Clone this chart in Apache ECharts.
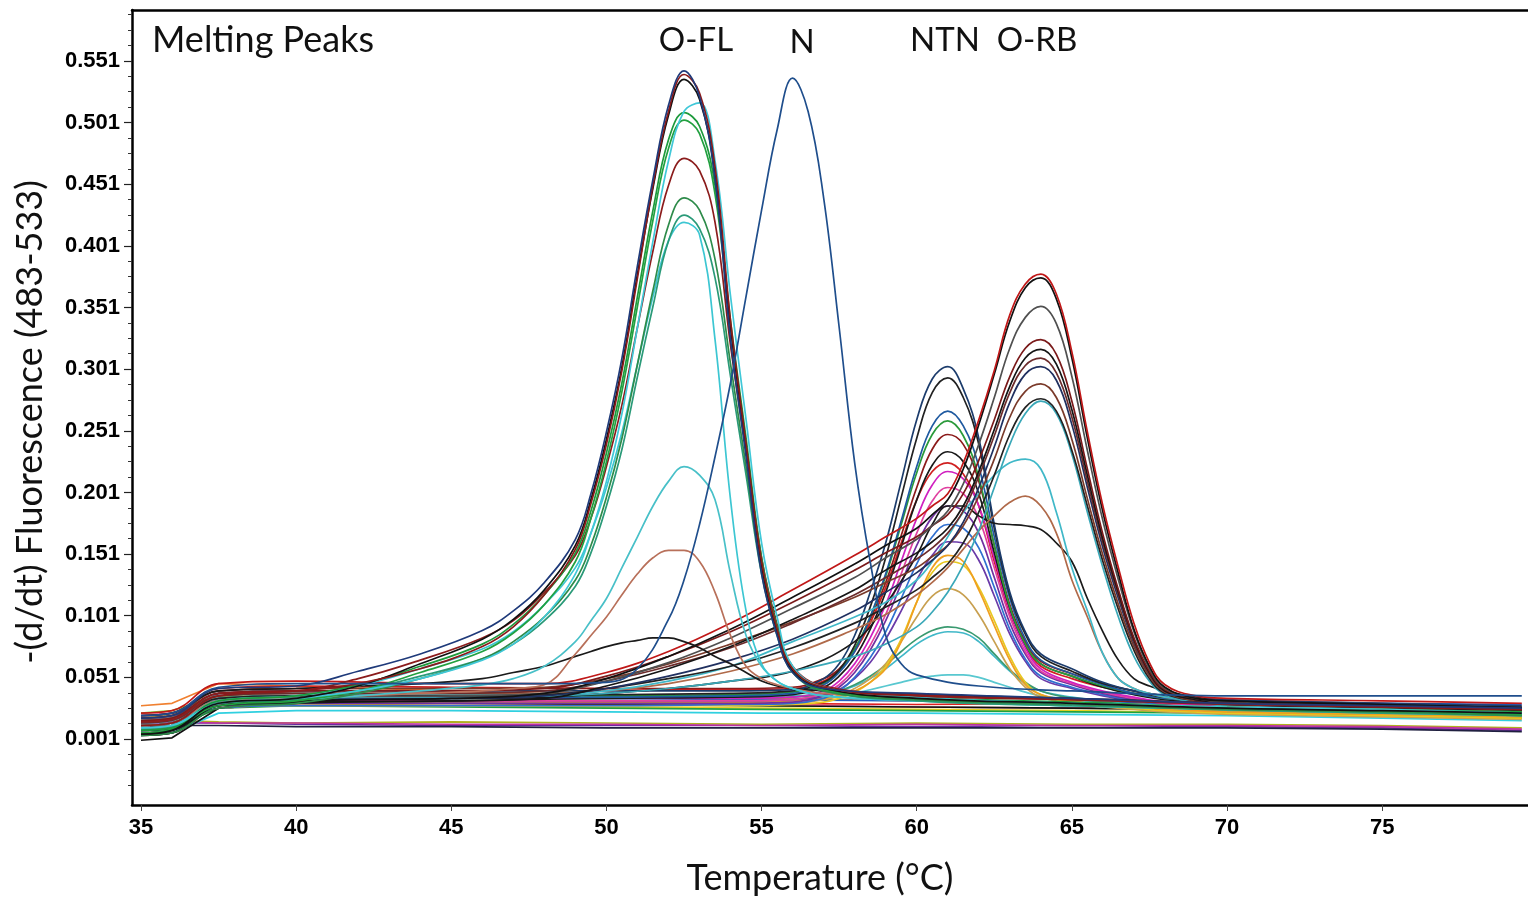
<!DOCTYPE html>
<html>
<head>
<meta charset="utf-8">
<script src="https://cdn.jsdelivr.net/npm/echarts@6.0.0/dist/echarts.min.js"></script>
<style>
  html, body { margin: 0; padding: 0; background: #fff; }
  #container { width: 1528px; height: 899px; }
</style>
</head>
<body>
<div id="container"></div>
<script>
// temperature grids (°C) for each group of curves
const tempOFL = [35, 36, 37.5, 40, 42, 44, 46, 47, 48, 49, 49.5, 50, 50.5, 51, 51.5, 52, 52.5, 53, 53.5, 54, 54.5, 55, 55.5, 56, 57, 60, 65, 70, 75, 79.5];
const tempN = [35, 36, 37.5, 40, 45, 48, 50, 51, 52, 52.5, 53, 53.5, 54, 54.5, 55, 55.5, 56, 56.5, 57, 57.5, 58, 58.5, 59, 59.5, 60, 62, 65, 70, 75, 79.5];
const tempNTN = [35, 36, 37.5, 40, 45, 50, 54, 56, 57, 57.5, 58, 58.5, 59, 59.5, 60, 60.5, 61, 61.5, 62, 62.5, 63, 63.5, 64, 65, 66, 67, 68, 70, 75, 79.5];
const tempORB = [35, 36, 37.5, 40, 45, 48, 50, 52, 54, 56, 58, 59, 60, 60.5, 61, 61.5, 62, 62.5, 63, 63.5, 64, 64.5, 65, 65.5, 66, 66.5, 67, 67.5, 68, 69, 70, 75, 79.5];
const tempBase = [35, 36, 37.5, 40, 45, 50, 55, 60, 65, 70, 75, 79.5];

// tick labels
const xTicks = [35, 40, 45, 50, 55, 60, 65, 70, 75];
const yTicks = [0.001, 0.051, 0.101, 0.151, 0.201, 0.251, 0.301, 0.351, 0.401, 0.451, 0.501, 0.551];
const peakNames = ['O-FL', 'N', 'NTN', 'O-RB'];

// O-FL peaks, -(d/dt) values on tempOFL
const ofl1 = [0.018, 0.02, 0.042, 0.044, 0.056, 0.07, 0.089, 0.105, 0.128, 0.163, 0.2, 0.25, 0.31, 0.385, 0.455, 0.515, 0.543, 0.522, 0.455, 0.325, 0.23, 0.135, 0.085, 0.055, 0.042, 0.038, 0.034, 0.03, 0.028, 0.026];
const ofl2 = [0.012, 0.014, 0.036, 0.04, 0.046, 0.058, 0.076, 0.092, 0.118, 0.155, 0.192, 0.24, 0.3, 0.375, 0.45, 0.51, 0.54, 0.525, 0.465, 0.34, 0.24, 0.145, 0.09, 0.058, 0.043, 0.036, 0.033, 0.03, 0.027, 0.025];
const ofl3 = [0.005, 0.008, 0.03, 0.034, 0.044, 0.062, 0.082, 0.098, 0.122, 0.158, 0.195, 0.244, 0.303, 0.378, 0.448, 0.507, 0.536, 0.52, 0.458, 0.335, 0.238, 0.142, 0.088, 0.056, 0.042, 0.034, 0.03, 0.026, 0.024, 0.022];
const ofl4 = [0.01, 0.012, 0.03, 0.034, 0.04, 0.05, 0.065, 0.078, 0.1, 0.135, 0.168, 0.21, 0.265, 0.335, 0.405, 0.47, 0.51, 0.517, 0.47, 0.36, 0.26, 0.16, 0.1, 0.06, 0.043, 0.035, 0.03, 0.027, 0.025, 0.022];
const ofl5 = [0.008, 0.01, 0.032, 0.036, 0.045, 0.06, 0.078, 0.094, 0.118, 0.152, 0.186, 0.233, 0.29, 0.36, 0.43, 0.487, 0.509, 0.498, 0.45, 0.34, 0.245, 0.148, 0.092, 0.058, 0.042, 0.035, 0.031, 0.027, 0.025, 0.023];
const ofl6 = [0.006, 0.009, 0.028, 0.032, 0.04, 0.055, 0.072, 0.087, 0.11, 0.145, 0.18, 0.226, 0.283, 0.352, 0.422, 0.48, 0.503, 0.492, 0.443, 0.335, 0.24, 0.145, 0.09, 0.057, 0.041, 0.034, 0.03, 0.026, 0.024, 0.021];
const ofl7 = [0.015, 0.017, 0.038, 0.04, 0.05, 0.065, 0.083, 0.097, 0.12, 0.15, 0.18, 0.222, 0.272, 0.335, 0.397, 0.45, 0.472, 0.462, 0.42, 0.32, 0.235, 0.148, 0.094, 0.06, 0.044, 0.037, 0.033, 0.029, 0.027, 0.025];
const ofl8 = [0.004, 0.006, 0.026, 0.03, 0.038, 0.05, 0.066, 0.08, 0.1, 0.13, 0.158, 0.197, 0.245, 0.305, 0.365, 0.418, 0.44, 0.43, 0.39, 0.305, 0.222, 0.138, 0.088, 0.056, 0.04, 0.033, 0.029, 0.025, 0.023, 0.02];
const ofl9 = [0.009, 0.011, 0.03, 0.033, 0.04, 0.052, 0.066, 0.078, 0.097, 0.125, 0.152, 0.19, 0.236, 0.295, 0.352, 0.405, 0.426, 0.415, 0.375, 0.295, 0.215, 0.135, 0.085, 0.055, 0.04, 0.032, 0.028, 0.025, 0.022, 0.02];
const ofl10 = [0.01, 0.012, 0.032, 0.036, 0.044, 0.058, 0.074, 0.088, 0.11, 0.14, 0.168, 0.205, 0.25, 0.305, 0.36, 0.405, 0.42, 0.41, 0.325, 0.195, 0.105, 0.062, 0.048, 0.042, 0.036, 0.032, 0.028, 0.025, 0.022, 0.02];
const ofl11 = [0.01, 0.012, 0.03, 0.033, 0.036, 0.04, 0.045, 0.05, 0.06, 0.08, 0.097, 0.115, 0.14, 0.165, 0.19, 0.21, 0.222, 0.215, 0.195, 0.135, 0.085, 0.06, 0.048, 0.042, 0.036, 0.032, 0.028, 0.025, 0.023, 0.021];
const ofl12 = [0.012, 0.014, 0.032, 0.034, 0.036, 0.038, 0.04, 0.042, 0.045, 0.07, 0.085, 0.1, 0.118, 0.135, 0.148, 0.154, 0.154, 0.145, 0.12, 0.085, 0.06, 0.05, 0.045, 0.042, 0.038, 0.034, 0.03, 0.027, 0.025, 0.023];
const ofl13 = [0.02, 0.022, 0.04, 0.042, 0.044, 0.046, 0.05, 0.055, 0.06, 0.068, 0.072, 0.076, 0.079, 0.081, 0.083, 0.083, 0.08, 0.075, 0.068, 0.062, 0.055, 0.048, 0.044, 0.042, 0.04, 0.037, 0.034, 0.03, 0.028, 0.026];

// N peak on tempN
const nPeak = [0.02, 0.022, 0.043, 0.046, 0.046, 0.046, 0.047, 0.058, 0.098, 0.13, 0.175, 0.23, 0.29, 0.36, 0.43, 0.495, 0.537, 0.51, 0.44, 0.335, 0.225, 0.145, 0.085, 0.062, 0.053, 0.044, 0.04, 0.036, 0.036, 0.036];

// NTN peaks on tempNTN
const ntn1 = [0.016, 0.018, 0.038, 0.04, 0.04, 0.04, 0.04, 0.041, 0.05, 0.062, 0.085, 0.12, 0.16, 0.21, 0.26, 0.293, 0.303, 0.285, 0.245, 0.175, 0.12, 0.088, 0.07, 0.058, 0.047, 0.04, 0.036, 0.033, 0.03, 0.028];
const ntn2 = [0.01, 0.012, 0.032, 0.035, 0.036, 0.037, 0.038, 0.04, 0.047, 0.057, 0.077, 0.108, 0.148, 0.197, 0.245, 0.282, 0.294, 0.278, 0.24, 0.172, 0.118, 0.086, 0.068, 0.056, 0.046, 0.04, 0.035, 0.032, 0.029, 0.027];
const ntn3 = [0.008, 0.01, 0.03, 0.033, 0.034, 0.035, 0.036, 0.038, 0.045, 0.055, 0.072, 0.1, 0.135, 0.178, 0.222, 0.255, 0.267, 0.255, 0.222, 0.165, 0.115, 0.082, 0.065, 0.054, 0.045, 0.038, 0.034, 0.031, 0.028, 0.026];
const ntn4 = [0.012, 0.014, 0.034, 0.036, 0.036, 0.036, 0.037, 0.039, 0.046, 0.056, 0.074, 0.1, 0.133, 0.175, 0.217, 0.248, 0.259, 0.247, 0.213, 0.158, 0.108, 0.078, 0.062, 0.052, 0.044, 0.038, 0.034, 0.031, 0.028, 0.026];
const ntn5 = [0.018, 0.02, 0.04, 0.042, 0.042, 0.042, 0.042, 0.043, 0.05, 0.058, 0.074, 0.098, 0.128, 0.166, 0.205, 0.236, 0.248, 0.24, 0.21, 0.158, 0.11, 0.08, 0.064, 0.054, 0.046, 0.04, 0.036, 0.032, 0.029, 0.027];
const ntn6 = [0.004, 0.006, 0.026, 0.03, 0.032, 0.034, 0.035, 0.037, 0.043, 0.052, 0.067, 0.09, 0.12, 0.157, 0.195, 0.223, 0.234, 0.226, 0.2, 0.152, 0.107, 0.078, 0.062, 0.052, 0.043, 0.037, 0.033, 0.03, 0.027, 0.025];
const ntn7 = [0.014, 0.016, 0.034, 0.036, 0.035, 0.034, 0.034, 0.035, 0.04, 0.048, 0.062, 0.083, 0.11, 0.145, 0.18, 0.207, 0.218, 0.212, 0.19, 0.148, 0.105, 0.075, 0.058, 0.047, 0.04, 0.035, 0.031, 0.028, 0.025, 0.022];
const ntn8 = [0.01, 0.012, 0.03, 0.032, 0.032, 0.032, 0.032, 0.033, 0.038, 0.045, 0.058, 0.077, 0.102, 0.135, 0.168, 0.194, 0.205, 0.2, 0.18, 0.14, 0.1, 0.072, 0.056, 0.046, 0.039, 0.034, 0.03, 0.027, 0.024, 0.022];
const ntn9 = [0.02, 0.022, 0.042, 0.044, 0.043, 0.042, 0.041, 0.042, 0.048, 0.057, 0.072, 0.095, 0.124, 0.16, 0.195, 0.218, 0.225, 0.216, 0.19, 0.145, 0.103, 0.076, 0.06, 0.05, 0.043, 0.038, 0.034, 0.031, 0.028, 0.026];
const ntn10 = [0.008, 0.01, 0.028, 0.03, 0.03, 0.03, 0.03, 0.031, 0.036, 0.043, 0.055, 0.073, 0.097, 0.127, 0.158, 0.181, 0.19, 0.186, 0.168, 0.132, 0.095, 0.07, 0.055, 0.045, 0.038, 0.033, 0.03, 0.027, 0.024, 0.022];
const ntn11 = [0.006, 0.008, 0.026, 0.028, 0.028, 0.028, 0.029, 0.03, 0.034, 0.04, 0.051, 0.067, 0.088, 0.115, 0.143, 0.165, 0.175, 0.172, 0.156, 0.124, 0.09, 0.066, 0.052, 0.043, 0.037, 0.032, 0.029, 0.026, 0.023, 0.021];
const ntn12 = [0.012, 0.014, 0.03, 0.032, 0.032, 0.032, 0.032, 0.033, 0.036, 0.041, 0.05, 0.063, 0.082, 0.105, 0.13, 0.15, 0.161, 0.16, 0.146, 0.117, 0.086, 0.064, 0.05, 0.042, 0.036, 0.032, 0.029, 0.026, 0.023, 0.021];
const ntn13 = [0.01, 0.012, 0.03, 0.032, 0.032, 0.031, 0.031, 0.032, 0.034, 0.036, 0.04, 0.047, 0.058, 0.08, 0.112, 0.14, 0.15, 0.145, 0.122, 0.093, 0.065, 0.045, 0.037, 0.032, 0.029, 0.027, 0.025, 0.023, 0.021, 0.019];
const ntn14 = [0.006, 0.008, 0.026, 0.028, 0.028, 0.028, 0.028, 0.029, 0.031, 0.034, 0.039, 0.047, 0.06, 0.082, 0.112, 0.136, 0.145, 0.142, 0.124, 0.097, 0.068, 0.047, 0.037, 0.031, 0.028, 0.026, 0.024, 0.022, 0.02, 0.018];
const ntn15 = [0.008, 0.01, 0.028, 0.03, 0.03, 0.03, 0.03, 0.03, 0.033, 0.036, 0.042, 0.05, 0.062, 0.08, 0.1, 0.117, 0.123, 0.118, 0.102, 0.08, 0.058, 0.043, 0.035, 0.03, 0.027, 0.025, 0.023, 0.021, 0.019, 0.017];
const ntn16 = [0.012, 0.014, 0.032, 0.034, 0.034, 0.034, 0.034, 0.035, 0.037, 0.04, 0.045, 0.052, 0.061, 0.072, 0.082, 0.089, 0.092, 0.09, 0.083, 0.07, 0.057, 0.047, 0.04, 0.034, 0.031, 0.028, 0.026, 0.024, 0.022, 0.02];
const ntn17 = [0.016, 0.018, 0.036, 0.038, 0.037, 0.036, 0.036, 0.036, 0.038, 0.04, 0.044, 0.05, 0.058, 0.068, 0.078, 0.085, 0.088, 0.087, 0.08, 0.068, 0.056, 0.046, 0.04, 0.035, 0.032, 0.029, 0.027, 0.025, 0.023, 0.021];
const ntn18 = [0.01, 0.012, 0.03, 0.032, 0.032, 0.032, 0.032, 0.033, 0.035, 0.036, 0.038, 0.041, 0.044, 0.047, 0.05, 0.052, 0.053, 0.053, 0.051, 0.047, 0.043, 0.039, 0.036, 0.033, 0.03, 0.028, 0.026, 0.024, 0.022, 0.02];

// O-RB peaks on tempORB
const orb1 = [0.022, 0.024, 0.046, 0.048, 0.046, 0.046, 0.055, 0.072, 0.095, 0.122, 0.15, 0.165, 0.18, 0.19, 0.2, 0.225, 0.26, 0.3, 0.345, 0.37, 0.378, 0.362, 0.315, 0.25, 0.19, 0.14, 0.095, 0.063, 0.045, 0.036, 0.034, 0.032, 0.03];
const orb2 = [0.004, 0.006, 0.028, 0.032, 0.034, 0.038, 0.05, 0.068, 0.09, 0.116, 0.143, 0.158, 0.172, 0.183, 0.195, 0.22, 0.256, 0.297, 0.34, 0.367, 0.375, 0.358, 0.31, 0.245, 0.185, 0.135, 0.09, 0.06, 0.043, 0.034, 0.032, 0.029, 0.026];
const orb3 = [0.01, 0.012, 0.032, 0.035, 0.036, 0.038, 0.048, 0.063, 0.083, 0.107, 0.132, 0.148, 0.163, 0.174, 0.186, 0.208, 0.24, 0.278, 0.318, 0.343, 0.352, 0.338, 0.295, 0.235, 0.178, 0.13, 0.088, 0.058, 0.042, 0.034, 0.031, 0.028, 0.025];
const orb4 = [0.016, 0.018, 0.038, 0.04, 0.04, 0.042, 0.052, 0.068, 0.088, 0.112, 0.138, 0.152, 0.165, 0.174, 0.183, 0.2, 0.227, 0.26, 0.295, 0.318, 0.325, 0.313, 0.275, 0.22, 0.167, 0.122, 0.083, 0.056, 0.041, 0.034, 0.031, 0.028, 0.025];
const orb5 = [0.006, 0.008, 0.028, 0.031, 0.032, 0.034, 0.044, 0.058, 0.076, 0.098, 0.122, 0.138, 0.152, 0.161, 0.172, 0.19, 0.218, 0.252, 0.287, 0.31, 0.317, 0.305, 0.268, 0.215, 0.163, 0.12, 0.082, 0.055, 0.04, 0.033, 0.03, 0.027, 0.024];
const orb6 = [0.014, 0.016, 0.036, 0.038, 0.038, 0.04, 0.048, 0.06, 0.075, 0.095, 0.118, 0.132, 0.147, 0.156, 0.168, 0.186, 0.214, 0.247, 0.282, 0.304, 0.31, 0.298, 0.262, 0.21, 0.16, 0.118, 0.08, 0.054, 0.04, 0.033, 0.03, 0.027, 0.024];
const orb7 = [0.008, 0.01, 0.03, 0.033, 0.034, 0.036, 0.042, 0.052, 0.065, 0.082, 0.105, 0.12, 0.136, 0.146, 0.158, 0.177, 0.205, 0.238, 0.274, 0.297, 0.303, 0.292, 0.256, 0.205, 0.156, 0.115, 0.079, 0.054, 0.04, 0.033, 0.03, 0.027, 0.024];
const orb8 = [0.018, 0.02, 0.04, 0.042, 0.042, 0.043, 0.05, 0.062, 0.078, 0.096, 0.116, 0.128, 0.14, 0.149, 0.158, 0.174, 0.198, 0.228, 0.262, 0.283, 0.289, 0.278, 0.244, 0.196, 0.15, 0.11, 0.076, 0.052, 0.039, 0.032, 0.03, 0.027, 0.024];
const orb9 = [0.012, 0.014, 0.034, 0.036, 0.036, 0.037, 0.042, 0.05, 0.06, 0.075, 0.095, 0.108, 0.122, 0.132, 0.143, 0.16, 0.185, 0.215, 0.248, 0.27, 0.277, 0.267, 0.235, 0.19, 0.145, 0.106, 0.073, 0.05, 0.038, 0.032, 0.029, 0.026, 0.023];
const orb10 = [0.014, 0.016, 0.034, 0.036, 0.036, 0.036, 0.038, 0.042, 0.048, 0.056, 0.068, 0.078, 0.092, 0.104, 0.12, 0.142, 0.17, 0.205, 0.24, 0.265, 0.275, 0.265, 0.232, 0.185, 0.14, 0.1, 0.068, 0.048, 0.037, 0.031, 0.028, 0.025, 0.022];
const orb11 = [0.012, 0.014, 0.032, 0.034, 0.035, 0.036, 0.04, 0.048, 0.06, 0.08, 0.1, 0.112, 0.13, 0.145, 0.165, 0.185, 0.2, 0.215, 0.225, 0.228, 0.22, 0.185, 0.14, 0.105, 0.07, 0.05, 0.042, 0.038, 0.035, 0.032, 0.03, 0.027, 0.024];
const orb12 = [0.016, 0.018, 0.036, 0.038, 0.038, 0.038, 0.04, 0.046, 0.056, 0.07, 0.09, 0.102, 0.118, 0.128, 0.14, 0.155, 0.17, 0.182, 0.193, 0.198, 0.19, 0.168, 0.13, 0.1, 0.07, 0.05, 0.042, 0.038, 0.035, 0.032, 0.03, 0.027, 0.024];
const orb13 = [0.008, 0.01, 0.03, 0.033, 0.034, 0.035, 0.038, 0.042, 0.048, 0.056, 0.08, 0.11, 0.15, 0.175, 0.19, 0.19, 0.182, 0.176, 0.175, 0.174, 0.171, 0.16, 0.145, 0.115, 0.088, 0.065, 0.05, 0.044, 0.04, 0.035, 0.031, 0.028, 0.025];

// flat (negative / background) traces on tempBase
const base1 = [0.012, 0.014, 0.014, 0.013, 0.012, 0.012, 0.012, 0.011, 0.012, 0.011, 0.01, 0.008];
const base2 = [0.016, 0.016, 0.015, 0.014, 0.015, 0.014, 0.013, 0.014, 0.013, 0.013, 0.012, 0.01];
const base3 = [0.01, 0.012, 0.012, 0.011, 0.011, 0.01, 0.01, 0.01, 0.01, 0.01, 0.009, 0.007];
const base4 = [0.014, 0.015, 0.014, 0.014, 0.013, 0.013, 0.012, 0.013, 0.012, 0.012, 0.011, 0.009];
const base5 = [0.028, 0.03, 0.046, 0.044, 0.04, 0.036, 0.034, 0.032, 0.03, 0.028, 0.027, 0.024];
const base6 = [0.022, 0.024, 0.036, 0.035, 0.032, 0.03, 0.028, 0.027, 0.026, 0.024, 0.022, 0.02];
const base7 = [0.018, 0.02, 0.032, 0.03, 0.028, 0.027, 0.026, 0.025, 0.024, 0.022, 0.021, 0.018];
const base8 = [0.02, 0.022, 0.034, 0.033, 0.031, 0.03, 0.029, 0.027, 0.026, 0.025, 0.023, 0.02];
const base9 = [0.014, 0.016, 0.03, 0.032, 0.032, 0.031, 0.03, 0.029, 0.03, 0.032, 0.03, 0.026];
const base10 = [0.008, 0.01, 0.026, 0.028, 0.027, 0.026, 0.025, 0.024, 0.023, 0.022, 0.02, 0.018];
const base11 = [0.004, 0.006, 0.022, 0.024, 0.024, 0.023, 0.022, 0.022, 0.021, 0.02, 0.018, 0.016];
const base12 = [0.016, 0.018, 0.038, 0.038, 0.036, 0.034, 0.033, 0.032, 0.031, 0.03, 0.03, 0.029];
const base13 = [0.0, 0.002, 0.026, 0.03, 0.03, 0.029, 0.028, 0.027, 0.026, 0.025, 0.023, 0.02];

const oflCurves = [ofl13, ofl12, ofl11, ofl10, ofl9, ofl8, ofl7, ofl6, ofl5, ofl4, ofl3, ofl2, ofl1];
const ntnCurves = [ntn18, ntn17, ntn16, ntn15, ntn14, ntn13, ntn12, ntn11, ntn10, ntn9, ntn8, ntn7, ntn6, ntn5, ntn4, ntn3, ntn2, ntn1];
const orbCurves = [orb13, orb12, orb11, orb10, orb9, orb8, orb7, orb6, orb5, orb4, orb3, orb2, orb1];
const baseCurves = [base1, base2, base3, base4, base5, base6, base7, base8, base9, base10, base11, base12, base13];

const chart = echarts.init(document.getElementById('container'));

const oflColors = ['#1a1a1a', '#b8705a', '#48c0c8', '#3cc6d2', '#2a9a78', '#2e8b4a', '#8b1c1c', '#22a040', '#1d9a3c', '#40c8d8', '#111111', '#8b1a1a', '#1f3a7a'];
const ntnColors = ['#58c8d0', '#40b8c8', '#3a9a70', '#c8a050', '#e8c820', '#f0a020', '#6a3aa8', '#3070d0', '#7030a0', '#d02020', '#e040a0', '#d020c0', '#1a1a1a', '#8b1a1a', '#2a9a3a', '#1f5aa0', '#222222', '#1c3c6c'];
const orbColors = ['#1a1a1a', '#b06a4a', '#40b8c8', '#3aa8b8', '#222222', '#7a3a2a', '#203060', '#6b2b2b', '#151515', '#7a1a1a', '#505050', '#111111', '#c01818'];
const baseColors = ['#6a2aa0', '#b0b020', '#202040', '#c030a0', '#f08030', '#80d040', '#e8d020', '#f060b0', '#e02020', '#20a040', '#30d0e0', '#2060c0', '#111111'];

const toPoints = (temps, vals) => temps.map((t, i) => [t, vals[i]]);

const makeSeries = (temps, curves, colors, smooth) => curves.map((vals, i) => ({
  type: 'line',
  data: toPoints(temps, vals),
  showSymbol: false,
  smooth: smooth,
  silent: true,
  lineStyle: { color: colors[i], width: 1.7 },
  itemStyle: { color: colors[i] }
}));

const series = []
  .concat(makeSeries(tempBase, baseCurves, baseColors, false))
  .concat(makeSeries(tempNTN, ntnCurves, ntnColors, 0.4))
  .concat(makeSeries(tempORB, orbCurves, orbColors, 0.4))
  .concat(makeSeries(tempOFL, oflCurves, oflColors, 0.4))
  .concat(makeSeries(tempN, [nPeak], ['#1f4e8c'], 0.4));

// minor ticks on the y axis (3 between labels)
const yMinor = [];
for (let v = yTicks[0] - 0.05; v < 0.59; v += 0.0125) {
  const k = Math.round((v - yTicks[0]) / 0.0125);
  if (k % 4 !== 0) yMinor.push(+v.toFixed(4));
}

const xMin = 34.71, xMax = 79.7;
const yMin = -0.0525, yMax = 0.5923;
const labelFont = 'Lato, "Open Sans", sans-serif';
const tickFont = '"Liberation Sans", Arial, sans-serif';

const option = {
  backgroundColor: '#fff',
  animation: false,
  grid: { left: 132, top: 10, right: 0, bottom: 94, show: false },
  xAxis: [{
    type: 'value',
    min: xMin,
    max: xMax,
    axisLine: { show: true, onZero: false, lineStyle: { color: '#000', width: 2.5 } },
    axisTick: { show: true, customValues: xTicks, length: 6, lineStyle: { color: '#444', width: 1 } },
    axisLabel: {
      customValues: xTicks,
      margin: 12,
      color: '#000',
      fontFamily: tickFont,
      fontWeight: 'bold',
      fontSize: 22,
      formatter: (v) => String(Math.round(v))
    },
    splitLine: { show: false }
  }, {
    type: 'value',
    position: 'top',
    min: xMin,
    max: xMax,
    axisLine: { show: true, onZero: false, lineStyle: { color: '#000', width: 2.5 } },
    axisTick: { show: false },
    axisLabel: { show: false },
    splitLine: { show: false }
  }],
  yAxis: [{
    type: 'value',
    min: yMin,
    max: yMax,
    axisLine: { show: true, onZero: false, lineStyle: { color: '#000', width: 2.5 } },
    axisTick: { show: true, customValues: yTicks, length: 8, lineStyle: { color: '#222', width: 1.2 } },
    axisLabel: {
      customValues: yTicks,
      margin: 12,
      color: '#000',
      fontFamily: tickFont,
      fontWeight: 'bold',
      fontSize: 22,
      formatter: (v) => v.toFixed(3)
    },
    splitLine: { show: false }
  }, {
    type: 'value',
    position: 'left',
    min: yMin,
    max: yMax,
    axisLine: { show: false, onZero: false },
    axisTick: { show: true, customValues: yMinor, length: 4, lineStyle: { color: '#333', width: 1 } },
    axisLabel: { show: false },
    splitLine: { show: false }
  }],
  graphic: [
    { type: 'text', x: 152, y: 40, style: { text: 'Melting Peaks', font: '36px ' + labelFont, fill: '#111', textVerticalAlign: 'middle' } },
    { type: 'text', x: 696, y: 40, style: { text: peakNames[0], font: '33px ' + labelFont, fill: '#111', textAlign: 'center', textVerticalAlign: 'middle' } },
    { type: 'text', x: 802, y: 42, style: { text: peakNames[1], font: '33px ' + labelFont, fill: '#111', textAlign: 'center', textVerticalAlign: 'middle' } },
    { type: 'text', x: 945, y: 40, style: { text: peakNames[2], font: '33px ' + labelFont, fill: '#111', textAlign: 'center', textVerticalAlign: 'middle' } },
    { type: 'text', x: 1037, y: 40, style: { text: peakNames[3], font: '33px ' + labelFont, fill: '#111', textAlign: 'center', textVerticalAlign: 'middle' } },
    { type: 'text', x: 30, y: 422, rotation: Math.PI / 2, style: { text: '-(d/dt) Fluorescence (483-533)', font: '36px ' + labelFont, fill: '#111', textAlign: 'center', textVerticalAlign: 'middle' } },
    { type: 'text', x: 820, y: 878, style: { text: 'Temperature (°C)', font: '36px ' + labelFont, fill: '#111', textAlign: 'center', textVerticalAlign: 'middle' } }
  ],
  series: series
};

chart.setOption(option);
</script>
</body>
</html>
